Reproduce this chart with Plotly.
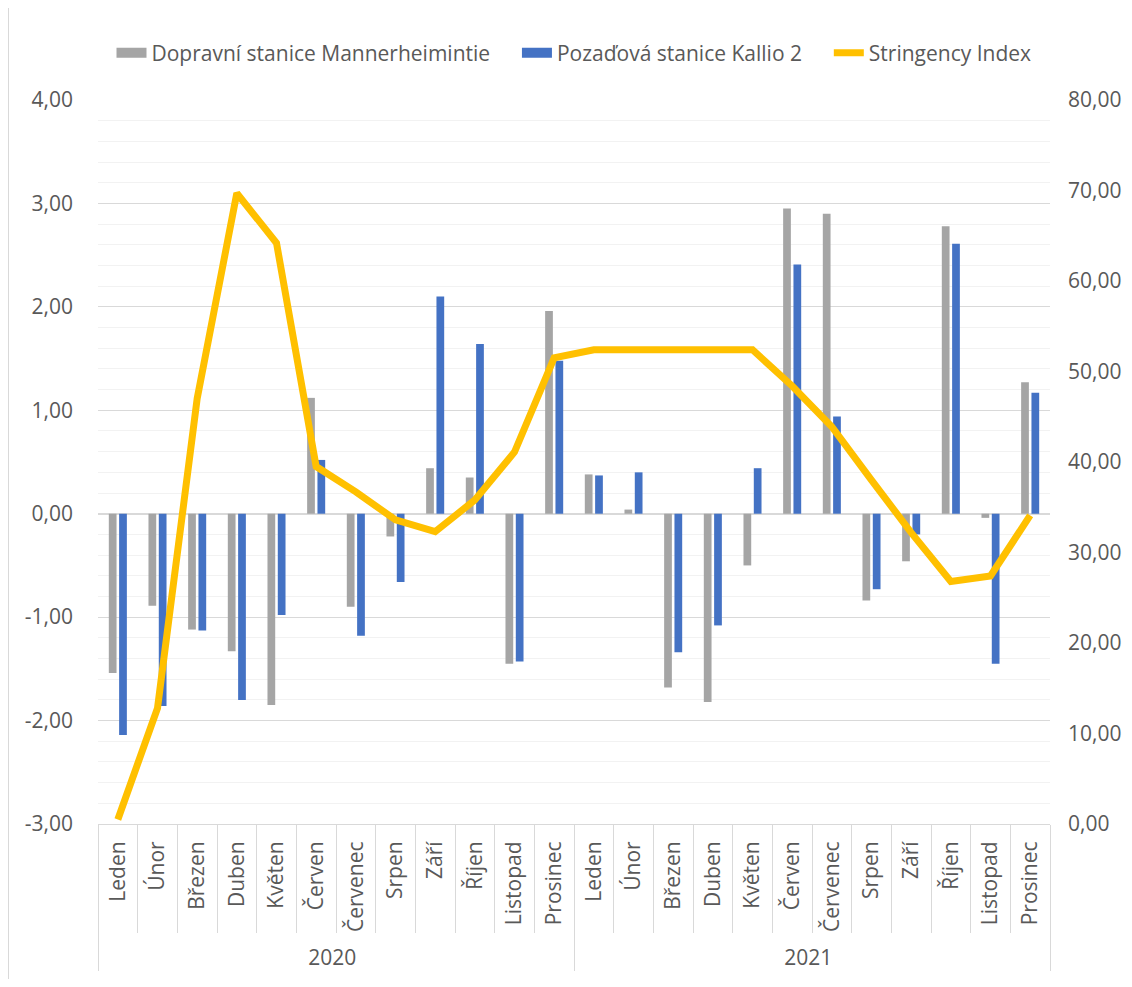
import plotly.graph_objects as go

months = ["Leden", "Únor", "Březen", "Duben", "Květen", "Červen", "Červenec",
          "Srpen", "Září", "Říjen", "Listopad", "Prosinec"]
years = ["2020", "2021"]

dopravni = [-1.54, -0.89, -1.12, -1.33, -1.85, 1.12, -0.90, -0.22, 0.44, 0.35, -1.45, 1.96,
            0.38, 0.04, -1.68, -1.82, -0.50, 2.95, 2.90, -0.84, -0.46, 2.78, -0.04, 1.27]
kallio = [-2.14, -1.86, -1.13, -1.80, -0.98, 0.52, -1.18, -0.66, 2.10, 1.64, -1.43, 1.48,
          0.37, 0.40, -1.34, -1.08, 0.44, 2.41, 0.94, -0.73, -0.20, 2.61, -1.45, 1.17]
stringency = [0.5, 12.8, 47.0, 69.7, 64.2, 39.5, 36.7, 33.6, 32.3, 35.8, 41.1, 51.5,
              52.4, 52.4, 52.4, 52.4, 52.4, 48.4, 43.9, 38.0, 32.2, 26.8, 27.4, 34.1]

left_ticks = [-3, -2, -1, 0, 1, 2, 3, 4]
right_ticks = [0, 10, 20, 30, 40, 50, 60, 70, 80]

series_names = ["Dopravní stanice Mannerheimintie", "Pozaďová stanice Kallio 2", "Stringency Index"]
GRAY, BLUE, GOLD = "#A5A5A5", "#4472C4", "#FFC000"


def fmt(v):
    return f"{v:.2f}".replace(".", ",")


x_outer = [y for y in years for _ in months]
x_inner = [m for _ in years for m in months]
x = [x_outer, x_inner]

FONT = "Open Sans"
TXT = "#595959"
FS = 21

# page body has an 8px margin; figure is offset by it
W, H = 1116, 971
L, T = 90, 92
R = W - (1050 - 8)
B = H - (824 - 8)
pw, ph = W - L - R, H - T - B

fig = go.Figure()
fig.add_trace(go.Bar(x=x, y=dopravni, name=series_names[0], showlegend=False,
                     legendgroup="a", marker=dict(color=GRAY, line=dict(width=0))))
fig.add_trace(go.Bar(x=x, y=kallio, name=series_names[1], showlegend=False,
                     legendgroup="b", marker=dict(color=BLUE, line=dict(width=0))))
fig.add_trace(go.Scatter(x=x, y=stringency, name=series_names[2], yaxis="y2",
                         showlegend=False, legendgroup="c",
                         mode="lines", line=dict(color=GOLD, width=7)))
# legend keys styled like the wide Excel swatches
PAD = "\u00a0" * 4
for nm, col, wdt, grp, pad in [(series_names[0], GRAY, 12, "a", PAD),
                               (series_names[1], BLUE, 12, "b", PAD),
                               (series_names[2], GOLD, 7, "c", "")]:
    fig.add_trace(go.Scatter(x=[None], y=[None], name=nm + pad, mode="lines", legendgroup=grp,
                             line=dict(color=col, width=wdt), hoverinfo="skip"))

fig.update_layout(
    width=W, height=H,
    margin=dict(l=L, r=R, t=T, b=B, autoexpand=False),
    paper_bgcolor="white", plot_bgcolor="white",
    font=dict(family=FONT, size=FS, color=TXT),
    barmode="group", bargap=0.48, bargroupgap=0.25,
    showlegend=True,
    legend=dict(orientation="h", x=0.5, xanchor="center", y=1 + 47 / ph, yanchor="middle",
                font=dict(size=FS, color=TXT), traceorder="normal",
                itemwidth=30, tracegroupgap=0),
    xaxis=dict(type="multicategory", tickangle=-90, tickson="boundaries",
               ticks="outside", ticklen=108, tickcolor="#d9d9d9",
               showline=True, linecolor="#d9d9d9", linewidth=1,
               dividercolor="#d9d9d9", dividerwidth=1, ticklabelstandoff=8,
               tickfont=dict(size=FS, color=TXT), showgrid=False),
    yaxis=dict(range=[-3, 4], tickmode="array", tickvals=left_ticks,
               ticktext=[fmt(v) for v in left_ticks], showgrid=True,
               gridcolor="#d9d9d9", gridwidth=1,
               minor=dict(dtick=0.2, showgrid=True, gridcolor="#f2f2f2", gridwidth=1),
               zeroline=True, zerolinecolor="#d9d9d9", zerolinewidth=1.5,
               ticks="", ticklabelstandoff=24, tickfont=dict(size=FS, color=TXT)),
    yaxis2=dict(range=[0, 80], tickmode="array", tickvals=right_ticks,
                ticktext=[fmt(v) for v in right_ticks], overlaying="y", side="right",
                showgrid=False, zeroline=False, ticks="", ticklabelstandoff=17,
                tickfont=dict(size=FS, color=TXT)),
    shapes=[dict(type="line", xref="paper", yref="paper",
                 x0=-(L - 0.5) / pw, x1=-(L - 0.5) / pw,
                 y0=-B / ph, y1=1 + T / ph,
                 line=dict(color="#d9d9d9", width=1), layer="below")],
)

fig.write_html("out.html")
